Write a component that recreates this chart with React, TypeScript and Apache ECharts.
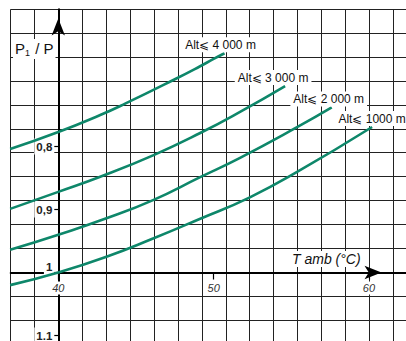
import React, { useEffect, useRef } from 'react';
import * as echarts from 'echarts';

// ---- data ----
const altLabels = ['Alt⩽ 4 000 m', 'Alt⩽ 3 000 m', 'Alt⩽ 2 000 m', 'Alt⩽ 1000 m'];
const tAmb4000 = [36.9, 40, 42.7, 44.3, 47.6, 49.1, 50.0, 50.7];
const ratio4000 = [0.804, 0.777, 0.75, 0.732, 0.692, 0.673, 0.661, 0.652];
const tAmb3000 = [36.9, 40, 42.7, 46.1, 49.1, 51.7, 54.6];
const ratio3000 = [0.899, 0.872, 0.848, 0.814, 0.779, 0.745, 0.704];
const tAmb2000 = [36.9, 40, 43.1, 46.1, 49.1, 51.7, 55.4, 57.6];
const ratio2000 = [0.964, 0.94, 0.914, 0.885, 0.849, 0.818, 0.769, 0.738];
const tAmb1000 = [36.9, 40, 43.1, 46.1, 49.1, 52.3, 55.4, 60.2];
const ratio1000 = [1.02, 1.0, 0.975, 0.946, 0.915, 0.881, 0.84, 0.769];
const xTickValues = [40, 50, 60];
const yTickValues = [0.8, 0.9, 1.0, 1.1];
const yTickLabels = ['0,8', '0,9', '1', '1.1'];
const xAxisTitle = 'T amb (°C)';

// ---- layout / style ----
const FONT = '"Liberation Sans", Arial, sans-serif';
const GREEN = '#0e876a';
const GRID_LEFT = 10.7;
const GRID_TOP = 9.3;
const W = 406;
const H = 341;
const X_MIN = 36.936;
const X_MAX = 62.382;
const Y_MIN = 0.5822;
const Y_MAX = 1.1087;
const CELL = 23.9;
const labelOffsets: [number, number][] = [[-4, 0], [-12, 0], [-3, 0], [0, 0]];

const seriesT = [tAmb4000, tAmb3000, tAmb2000, tAmb1000];
const seriesR = [ratio4000, ratio3000, ratio2000, ratio1000];

export default function App() {
  const ref = useRef<HTMLDivElement>(null);
  useEffect(() => {
    if (!ref.current) return;
    const chart = echarts.init(ref.current, undefined, { renderer: 'svg' });
    const gw = W - GRID_LEFT;
    const gh = H - GRID_TOP;
    const series = seriesT.map((ts, i) => {
      const rs = seriesR[i];
      const last = ts.length - 1;
      return {
        type: 'line',
        xAxisIndex: 1,
        yAxisIndex: 1,
        data: ts.map((t, j) => [t, rs[j]]),
        smooth: 0.5,
        symbol: 'none',
        z: 3,
        lineStyle: { color: GREEN, width: 2.6 },
        markPoint: {
          silent: true,
          symbol: 'circle',
          symbolSize: 0,
          data: [{ coord: [ts[last], rs[last]] }],
          label: {
            show: true,
            position: 'top',
            distance: 1,
            offset: labelOffsets[i],
            formatter: () => altLabels[i],
            fontFamily: FONT,
            fontSize: 12,
            color: '#111',
            backgroundColor: '#fff',
            padding: [2, 3, 1, 3],
          },
        },
      };
    });
    chart.setOption({
      animation: false,
      grid: { left: GRID_LEFT, top: GRID_TOP, right: 0, bottom: 0, outerBoundsMode: 'none', containLabel: false },
      title: [
        {
          text: '{p|P}{s|1}{p| / P}',
          left: 13,
          top: 38,
          padding: [2, 2, 2, 2],
          backgroundColor: '#fff',
          textStyle: {
            rich: {
              p: { fontFamily: FONT, fontSize: 15, fontWeight: 'normal', color: '#111' },
              s: { fontFamily: FONT, fontSize: 9, fontWeight: 'normal', color: '#111', padding: [8, 1, 0, 0] },
            },
          },
        },
        {
          text: xAxisTitle,
          left: 290,
          top: 251,
          padding: [1, 2, 1, 2],
          backgroundColor: '#fff',
          textStyle: { fontFamily: FONT, fontSize: 14, fontStyle: 'italic', fontWeight: 'normal', color: '#111' },
        },
      ],
      xAxis: [
        {
          type: 'value',
          position: 'top',
          min: 0,
          max: gw,
          interval: CELL,
          z: 0,
          axisLine: { show: false },
          axisTick: { show: false },
          axisLabel: { show: false },
          splitLine: { show: true, lineStyle: { color: '#222', width: 1 } },
        },
        {
          type: 'value',
          position: 'bottom',
          min: X_MIN,
          max: X_MAX,
          offset: -(H - (GRID_TOP + (1 - Y_MIN) / (Y_MAX - Y_MIN) * gh)),
          z: 2,
          axisLine: {
            show: true,
            lineStyle: { color: '#000', width: 2 },
            symbol: ['none', 'arrow'],
            symbolSize: [10, 17],
            symbolOffset: [0, -24.5],
          },
          axisTick: { show: true, customValues: xTickValues, length: 7, lineStyle: { color: '#000', width: 1.2 } },
          axisLabel: {
            show: true,
            customValues: xTickValues,
            margin: 9,
            fontFamily: FONT,
            fontSize: 11,
            fontStyle: 'italic',
            color: '#333',
            backgroundColor: '#fff',
            padding: [1, 1, 1, 1],
          },
          splitLine: { show: false },
        },
      ],
      yAxis: [
        {
          type: 'value',
          position: 'right',
          inverse: true,
          min: 0,
          max: gh,
          interval: CELL,
          z: 0,
          axisLine: { show: false },
          axisTick: { show: false },
          axisLabel: { show: false },
          splitLine: { show: true, lineStyle: { color: '#222', width: 1 } },
        },
        {
          type: 'value',
          position: 'left',
          inverse: true,
          min: Y_MIN,
          max: Y_MAX,
          offset: -((40 - X_MIN) / (X_MAX - X_MIN) * gw),
          z: 2,
          axisLine: {
            show: true,
            lineStyle: { color: '#000', width: 2 },
            symbol: ['none', 'arrow'],
            symbolSize: [10, 17],
            symbolOffset: [0, -9.2],
          },
          axisTick: { show: true, customValues: yTickValues, length: 6, lineStyle: { color: '#000', width: 1.2 } },
          axisLabel: {
            show: true,
            customValues: yTickValues,
            margin: 4,
            fontFamily: FONT,
            fontSize: 11.5,
            fontWeight: 'bold',
            color: '#222',
            backgroundColor: '#fff',
            padding: [2, 2, 2, 2],
            formatter: (v: number) => {
              const idx = yTickValues.findIndex((t) => Math.abs(t - v) < 1e-6);
              const s = idx >= 0 ? yTickLabels[idx] : '';
              return Math.abs(v - 1) < 1e-6 ? `{one|${s}}` : s;
            },
            rich: {
              one: { fontFamily: FONT, fontSize: 11.5, fontWeight: 'bold', color: '#222', padding: [0, 0, 12, 0] },
            },
          },
          splitLine: { show: false },
        },
      ],
      series,
    });
    return () => chart.dispose();
  }, []);
  return <div ref={ref} style={{ position: 'absolute', left: 0, top: 0, width: W, height: H, background: '#fff' }} />;
}
